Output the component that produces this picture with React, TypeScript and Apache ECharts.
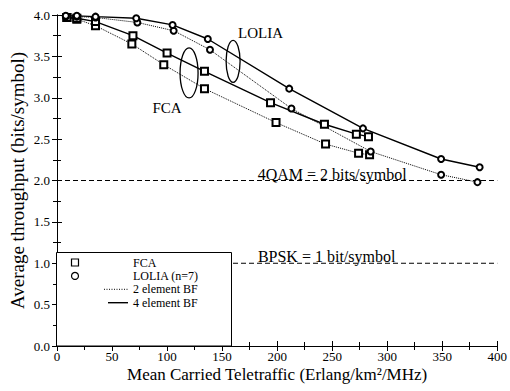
import React, { useEffect, useRef } from "react";
import * as echarts from "echarts";

// Mean carried teletraffic (x) and average throughput (y)
const fca4X = [9, 18, 35, 69, 100, 134, 194, 243, 272, 283];
const fca4Y = [3.97, 3.96, 3.92, 3.75, 3.54, 3.32, 2.94, 2.68, 2.56, 2.53];
const fca2X = [9, 18, 35, 68, 97, 134, 199, 244, 274, 284];
const fca2Y = [3.97, 3.95, 3.87, 3.65, 3.4, 3.11, 2.7, 2.44, 2.33, 2.31];
const lolia4X = [8, 18, 35, 72, 105, 137, 211, 278, 349, 384];
const lolia4Y = [3.99, 3.99, 3.98, 3.96, 3.88, 3.71, 3.11, 2.63, 2.26, 2.16];
const lolia2X = [8, 18, 35, 73, 106, 139, 213, 285, 349, 382];
const lolia2Y = [3.98, 3.98, 3.97, 3.91, 3.81, 3.58, 2.87, 2.35, 2.07, 1.98];

const refLevels = [2, 1];
const refLabels = ["4QAM = 2 bits/symbol", "BPSK = 1 bit/symbol"];
const legendNames = ["FCA", "LOLIA (n=7)", "2 element BF", "4 element BF"];

const FONT = "Liberation Serif";

const zip = (xs: number[], ys: number[]) => xs.map((x, i) => [x, ys[i]]);

export default function App() {
  const ref = useRef<HTMLDivElement>(null);
  useEffect(() => {
    if (!ref.current) return;
    const chart = echarts.init(ref.current, null, { renderer: "svg" });
    const tick = { show: true, inside: true, length: 5, lineStyle: { color: "#000" } };
    const minor = { show: true, splitNumber: 2, length: 4, lineStyle: { color: "#000" } };
    const axLine = { show: true, lineStyle: { color: "#000", width: 1 } };
    const lineSeries = (name: string, data: number[][], dotted: boolean, symbol: string, size: number) => ({
      name,
      type: "line",
      data,
      symbol,
      symbolSize: size,
      showSymbol: true,
      lineStyle: { color: "#000", width: dotted ? 1 : 1.4, type: dotted ? "dotted" : "solid" },
      itemStyle: { color: "#000", borderColor: "#000", borderWidth: 1.2 },
      z: 3,
      silent: true,
    });
    chart.setOption({
      animation: false,
      backgroundColor: "#fff",
      textStyle: { fontFamily: FONT },
      grid: { left: 55, top: 15, right: 11, bottom: 45 },
      xAxis: [
        {
          type: "value",
          min: 0,
          max: 400,
          interval: 50,
          axisLine: axLine,
          axisTick: tick,
          minorTick: minor,
          splitLine: { show: false },
          axisLabel: { color: "#000", fontSize: 13, fontFamily: FONT, margin: 4 },
          name: "Mean Carried Teletraffic (Erlang/km²/MHz)",
          nameLocation: "middle",
          nameGap: 20,
          nameMoveOverlap: false,
          nameTextStyle: { color: "#000", fontSize: 17, fontFamily: FONT, verticalAlign: "top" },
        },
        {
          type: "value",
          position: "top",
          min: 0,
          max: 400,
          interval: 50,
          axisLine: axLine,
          axisTick: tick,
          minorTick: minor,
          splitLine: { show: false },
          axisLabel: { show: false },
        },
      ],
      yAxis: [
        {
          type: "value",
          min: 0,
          max: 4,
          interval: 0.5,
          axisLine: axLine,
          axisTick: tick,
          minorTick: minor,
          splitLine: { show: false },
          axisLabel: {
            color: "#000",
            fontSize: 13,
            fontFamily: FONT,
            margin: 7,
            formatter: (v: number) => v.toFixed(1),
          },
          name: "Average throughput (bits/symbol)",
          nameLocation: "middle",
          nameGap: 30,
          nameMoveOverlap: false,
          nameTextStyle: { color: "#000", fontSize: 19, fontFamily: FONT },
        },
        {
          type: "value",
          position: "right",
          min: 0,
          max: 4,
          interval: 0.5,
          axisLine: axLine,
          axisTick: tick,
          minorTick: minor,
          splitLine: { show: false },
          axisLabel: { show: false },
        },
      ],
      series: [
        ...refLevels.map((lv) => ({
          type: "line",
          data: [
            [0, lv],
            [400, lv],
          ],
          symbol: "none",
          lineStyle: { color: "#000", width: 1, type: [5, 3] },
          z: 1,
          silent: true,
        })),
        lineSeries("FCA 2 element BF", zip(fca2X, fca2Y), true, "emptyRect", 7),
        lineSeries("FCA 4 element BF", zip(fca4X, fca4Y), false, "emptyRect", 7),
        lineSeries("LOLIA 2 element BF", zip(lolia2X, lolia2Y), true, "emptyCircle", 6),
        lineSeries("LOLIA 4 element BF", zip(lolia4X, lolia4Y), false, "emptyCircle", 6),
      ],
    });

    const px = (x: number, y: number) => chart.convertToPixel({ gridIndex: 0 }, [x, y]) as number[];
    const txt = (text: string, p: number[], size = 15, align = "center", vAlign = "middle") => ({
      type: "text",
      x: p[0],
      y: p[1],
      z: 50,
      style: { text, fill: "#000", font: `${size}px "${FONT}"`, align, verticalAlign: vAlign },
    });
    const ell = (p: number[], rx: number, ry: number) => ({
      type: "ellipse",
      shape: { cx: p[0], cy: p[1], rx, ry },
      z: 50,
      style: { fill: "none", stroke: "#000", lineWidth: 1.3 },
    });

    const lx = 56.5;
    const ly = 252.5;
    const pitch = 13.4;
    const row = (i: number) => 262.5 + i * pitch;
    const bottom = px(0, 0)[1];
    const graphic: any[] = [
      txt("LOLIA", px(185, 3.78)),
      txt("FCA", px(100, 2.88)),
      ell(px(120, 3.3), 9, 25),
      ell(px(160, 3.44), 7, 21),
      txt(refLabels[0], px(250, 1.98), 16, "center", "bottom"),
      txt(refLabels[1], px(245, 0.98), 16, "center", "bottom"),
      {
        type: "rect",
        z: 60,
        shape: { x: lx, y: ly, width: 175, height: bottom - ly },
        style: { fill: "#fff", stroke: "#000", lineWidth: 1 },
      },
      {
        type: "rect",
        z: 61,
        shape: { x: 71.5, y: row(0) - 3.5, width: 7, height: 7 },
        style: { fill: "#fff", stroke: "#000", lineWidth: 1.2 },
      },
      {
        type: "circle",
        z: 61,
        shape: { cx: 75, cy: row(1), r: 3.5 },
        style: { fill: "#fff", stroke: "#000", lineWidth: 1.2 },
      },
      {
        type: "line",
        z: 61,
        shape: { x1: 104, y1: row(2), x2: 128, y2: row(2) },
        style: { stroke: "#000", lineWidth: 1, lineDash: [1, 1.5] },
      },
      {
        type: "line",
        z: 61,
        shape: { x1: 108, y1: row(3), x2: 128, y2: row(3) },
        style: { stroke: "#000", lineWidth: 1.4 },
      },
      ...legendNames.map((n, i) => ({
        type: "text",
        z: 62,
        x: 133,
        y: row(i),
        style: { text: n, fill: "#000", font: `12px "${FONT}"`, align: "left", verticalAlign: "middle" },
      })),
    ];
    chart.setOption({ graphic });

    return () => chart.dispose();
  }, []);
  return <div ref={ref} style={{ width: 510, height: 391, position: "absolute", left: 0, top: 0 }} />;
}
